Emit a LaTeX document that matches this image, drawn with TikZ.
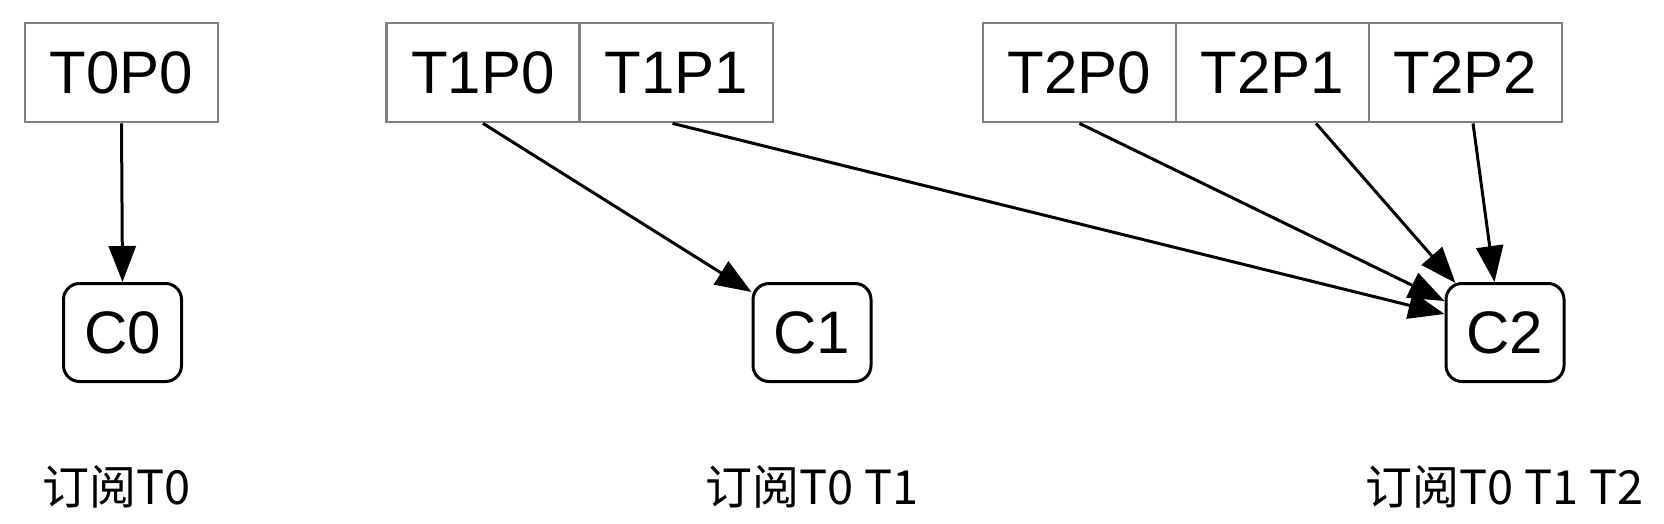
\documentclass[tikz,border=0pt]{standalone}
\usepackage{fontspec}
\setmainfont{Liberation Sans}
\newfontfamily\cjk{Noto Sans CJK SC}
\usetikzlibrary{arrows.meta,calc}
\definecolor{boxgray}{HTML}{808080}
\begin{document}
\begin{tikzpicture}[x=0.5pt,y=-0.5pt,
  part/.style={draw=boxgray, line width=1.4pt, minimum width=96.5pt, minimum height=49.5pt, inner sep=0pt, font=\fontsize{30}{36}\selectfont},
  cons/.style={draw=black, line width=1.5pt, rounded corners=8pt, minimum width=59pt, minimum height=49pt, inner sep=0pt, font=\fontsize{30}{36}\selectfont},
  lbl/.style={font=\cjk\fontsize{23.5}{28}\selectfont, inner sep=0pt},
  flow/.style={line width=1.5pt, -{Triangle[length=18pt,width=13.5pt]}}]
\useasboundingbox (0,0) rectangle (1664,524);
% partitions
\node[part] (t0p0) at (121.5,72.5) {T0P0};
\node[part] (t1p0) at (483,72.5) {T1P0};
\node[part] (t1p1) at (676.5,72.5) {T1P1};
\node[part] (t2p0) at (1079.5,72.5) {T2P0};
\node[part] (t2p1) at (1272.5,72.5) {T2P1};
\node[part] (t2p2) at (1465.5,72.5) {T2P2};
% consumers
\node[cons] (c0) at (122.5,332.5) {C0};
\node[cons] (c1) at (812,332.5) {C1};
\node[cons] (c2) at (1505,332.5) {C2};
% labels
\node[lbl] (l0) at (116.5,487) {订阅T0};
\node[lbl] (l1) at (812,487) {订阅T0 T1};
\node[lbl] (l2) at (1504.5,487) {订阅T0 T1 T2};
% connectors
\draw[flow] (t0p0.south) -- (c0.north);
\draw[flow] (t1p0.south) -- ($(c1.north west)+(0,10)$);
\draw[flow] ($(t1p1.south)+(-4,0)$) -- ($(c2.north west)+(0,32)$);
\draw[flow] (t2p0.south) -- ($(c2.north west)+(0,19)$);
\draw[flow] ($(t2p1.south)+(43.5,0)$) -- ($(c2.north west)+(11,1)$);
\draw[flow] ($(t2p2.south)+(7.5,0)$) -- ($(c2.north west)+(50,0)$);
\end{tikzpicture}
\end{document}
